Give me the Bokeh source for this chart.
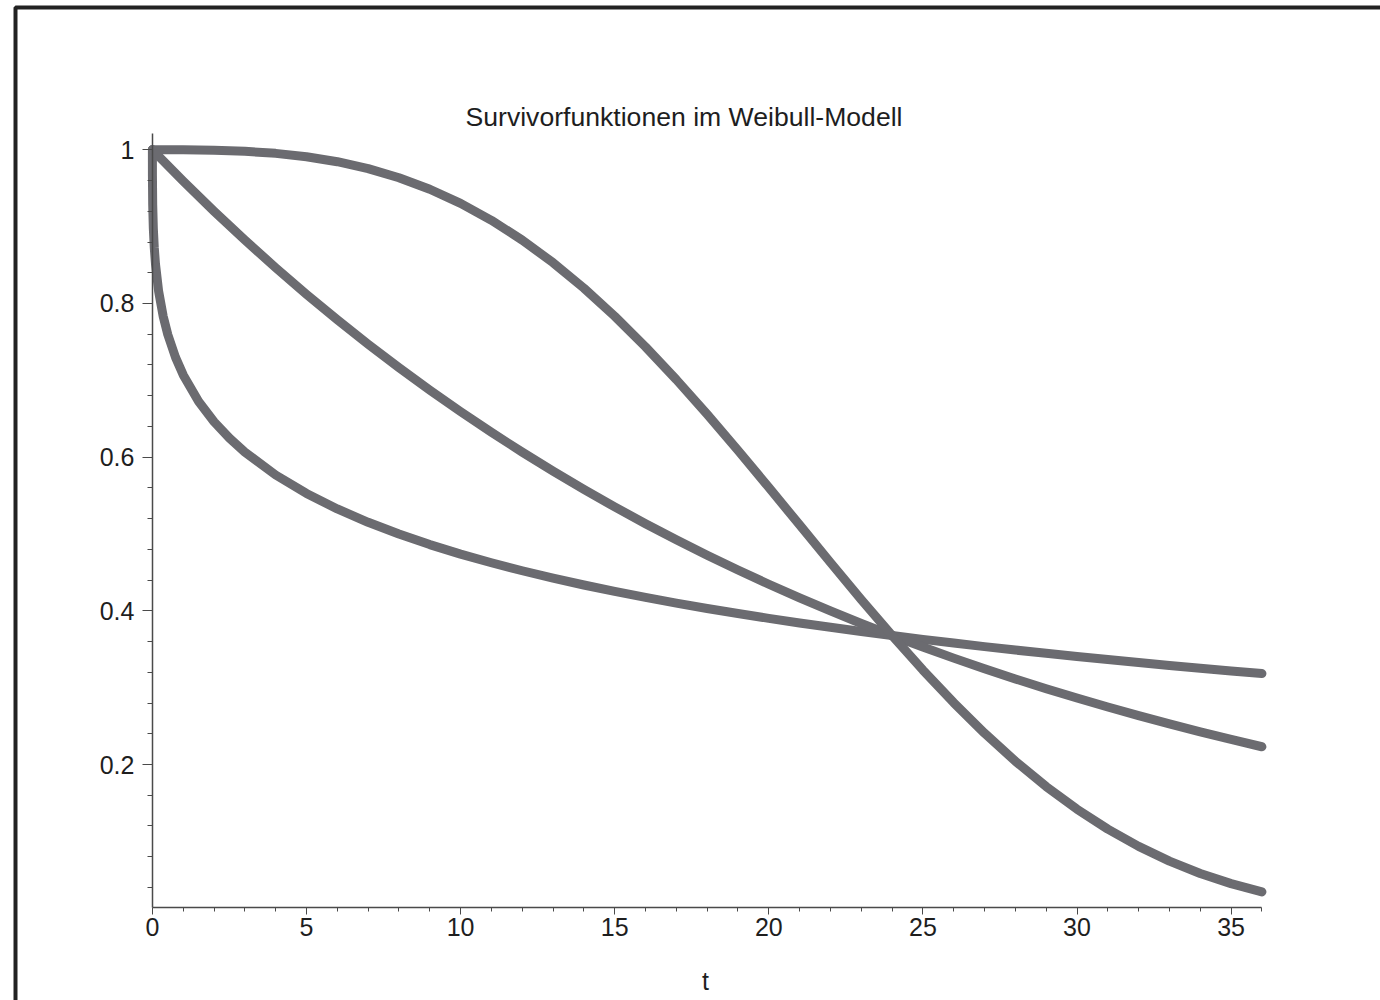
from bokeh.plotting import figure
from bokeh.models import Range1d, LinearAxis, FixedTicker, Label, BoxAnnotation
from bokeh.embed import file_html
from bokeh.resources import INLINE

# ---- data ----
# shape 1: straight exponential-like decay
t_exp = [0, 1, 2, 3, 4, 5, 6, 7, 8, 9, 10, 11, 12, 13, 14, 15, 16, 17, 18,
         19, 20, 21, 22, 23, 24, 25, 26, 27, 28, 29, 30, 31, 32, 33, 34, 35, 36]
s_exp = [1.0, 0.95919, 0.92004, 0.88250, 0.84648, 0.81194, 0.77880, 0.74702,
         0.71653, 0.68729, 0.65924, 0.63234, 0.60653, 0.58178, 0.55803, 0.53526,
         0.51342, 0.49246, 0.47237, 0.45309, 0.43460, 0.41687, 0.39985, 0.38354,
         0.36788, 0.35287, 0.33847, 0.32465, 0.31140, 0.29870, 0.28650, 0.27481,
         0.26359, 0.25284, 0.24252, 0.23262, 0.22313]

# shape 3: s-shaped curve
t_s = [0, 1, 2, 3, 4, 5, 6, 7, 8, 9, 10, 11, 12, 13, 14, 15, 16, 17, 18,
       19, 20, 21, 22, 23, 24, 25, 26, 27, 28, 29, 30, 31, 32, 33, 34, 35, 36]
s_s = [1.0, 0.99993, 0.99942, 0.99805, 0.99538, 0.99100, 0.98450, 0.97549,
       0.96364, 0.94863, 0.93022, 0.90821, 0.88250, 0.85306, 0.81996, 0.78338,
       0.74357, 0.70090, 0.65582, 0.60886, 0.56063, 0.51175, 0.46290, 0.41473,
       0.36788, 0.32294, 0.28044, 0.24079, 0.20434, 0.17132, 0.14183, 0.11590,
       0.09345, 0.07430, 0.05824, 0.04498, 0.03422]

# shape 1/3: steep early drop
t_c = [0, 0.00001, 0.0001, 0.001, 0.01, 0.03, 0.06, 0.1, 0.2, 0.35, 0.5, 0.75,
       1, 1.5, 2, 2.5, 3, 4, 5, 6, 7, 8, 9, 10, 11, 12, 13, 14, 15, 16, 17, 18,
       19, 20, 21, 22, 23, 24, 25, 26, 27, 28, 29, 30, 31, 32, 33, 34, 35, 36]
s_c = [1.0, 0.99256, 0.98404, 0.96593, 0.92803, 0.89788, 0.87309, 0.85135,
       0.81647, 0.78324, 0.75945, 0.72980, 0.70703, 0.67244, 0.64611, 0.62469,
       0.60653, 0.57677, 0.55276, 0.53262, 0.51523, 0.49991, 0.48621, 0.47383,
       0.46256, 0.45217, 0.44257, 0.43364, 0.42529, 0.41746, 0.41008, 0.40311,
       0.39650, 0.39022, 0.38424, 0.37855, 0.37310, 0.36788, 0.36287, 0.35806,
       0.35344, 0.34898, 0.34469, 0.34054, 0.33654, 0.33266, 0.32890, 0.32527,
       0.32174, 0.31832]

x_major = [0, 5, 10, 15, 20, 25, 30, 35]
x_labels = ["0", "5", "10", "15", "20", "25", "30", "35"]
x_minor = [1, 2, 3, 4, 6, 7, 8, 9, 11, 12, 13, 14, 16, 17, 18, 19, 21, 22, 23, 24,
           26, 27, 28, 29, 31, 32, 33, 34, 36]
y_major = [0.2, 0.4, 0.6, 0.8, 1.0]
y_labels = ["0.2", "0.4", "0.6", "0.8", "1"]
y_minor = [0.04, 0.08, 0.12, 0.16, 0.24, 0.28, 0.32, 0.36, 0.44, 0.48, 0.52, 0.56,
           0.64, 0.68, 0.72, 0.76, 0.84, 0.88, 0.92, 0.96]

title_text = "Survivorfunktionen im Weibull-Modell"
x_label = "t"

FONT = "Liberation Sans"
CURVE = "#6b6b70"
AXIS = "#4a4a4a"
TEXT = "#1e1e1e"

W, H = 1380, 1000
# pixel layout: t=0 at x0, value 1 at y1, scale per unit
X0, SX = 151.9, 30.82
Y1, SY = 149.3, 768.4
def px_x(px):
    return (px - X0) / SX
def px_y(py):
    return 1 + (Y1 - py) / SY

Y_LO, Y_HI = px_y(907), px_y(133)

p = figure(width=W, height=H,
           x_range=Range1d(px_x(0), px_x(W)), y_range=Range1d(px_y(H), px_y(0)),
           output_backend="svg", toolbar_location=None,
           x_axis_location=None, y_axis_location=None,
           min_border=0)
p.grid.visible = False
p.outline_line_color = None
p.background_fill_color = "white"
p.border_fill_color = "white"

xaxis = LinearAxis(ticker=FixedTicker(ticks=x_major, minor_ticks=x_minor),
                   bounds=(0, 36), fixed_location=Y_LO,
                   major_label_overrides=dict(zip(x_major, x_labels)))
yaxis = LinearAxis(ticker=FixedTicker(ticks=y_major, minor_ticks=y_minor),
                   bounds=(Y_LO, Y_HI), fixed_location=0,
                   major_label_overrides=dict(zip(y_major, y_labels)))
for ax in (xaxis, yaxis):
    ax.axis_line_color = AXIS
    ax.axis_line_width = 1.5
    ax.major_tick_line_color = AXIS
    ax.minor_tick_line_color = AXIS
    ax.major_tick_in = 0
    ax.minor_tick_in = 0
    ax.major_label_text_font = FONT
    ax.major_label_text_font_size = "25px"
    ax.major_label_text_color = TEXT
xaxis.major_tick_out = 7
xaxis.minor_tick_out = 4
xaxis.major_label_standoff = 3
yaxis.major_tick_out = 10
yaxis.minor_tick_out = 5
yaxis.major_label_standoff = 8
p.add_layout(xaxis, "below")
p.add_layout(yaxis, "left")

for tt, ss in ((t_c, s_c), (t_exp, s_exp), (t_s, s_s)):
    p.line(tt, ss, line_width=9, line_color=CURVE, line_cap="round", line_join="round")

p.add_layout(Label(x=px_x(683.5), y=px_y(116), text=title_text,
                   text_align="center", text_baseline="alphabetic",
                   text_font=FONT, text_font_size="26.6px", text_color=TEXT))
p.add_layout(Label(x=px_x(705), y=px_y(980), text=x_label,
                   text_align="center", text_baseline="alphabetic",
                   text_font=FONT, text_font_size="25px", text_color=TEXT))

p.add_layout(BoxAnnotation(left=px_x(15), right=px_x(W + 40),
                           top=px_y(7), bottom=px_y(H + 40),
                           fill_alpha=0, line_color="#222222", line_alpha=1.0,
                           line_width=4, level="overlay"))

open("out.html", "w").write(file_html(p, INLINE))
